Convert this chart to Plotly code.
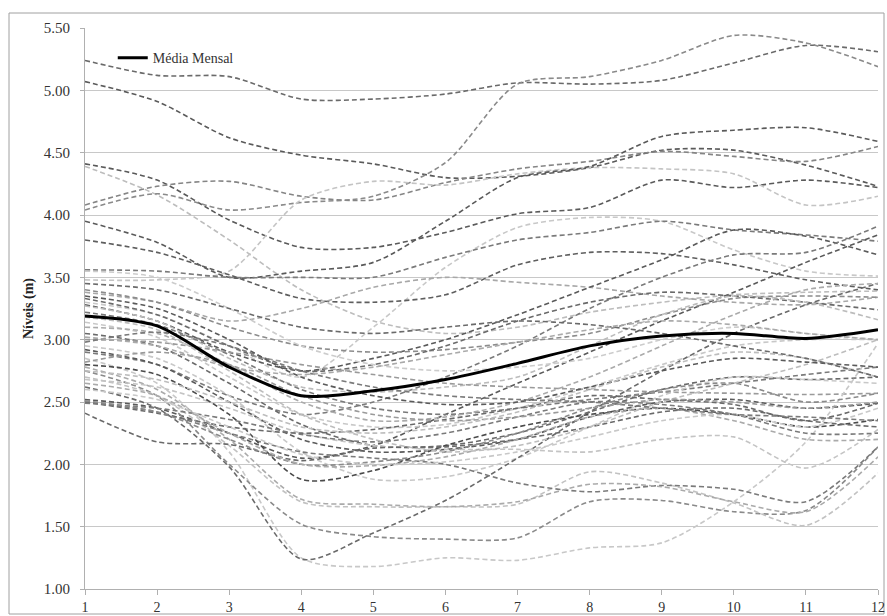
import plotly.graph_objects as go

months = [1, 2, 3, 4, 5, 6, 7, 8, 9, 10, 11, 12]
y_ticks = [1.00, 1.50, 2.00, 2.50, 3.00, 3.50, 4.00, 4.50, 5.00, 5.50]

media_mensal = [3.19, 3.11, 2.78, 2.55, 2.59, 2.68, 2.81, 2.95, 3.03, 3.05, 3.01, 3.08]

s01 = [5.24, 5.12, 5.11, 4.93, 4.93, 4.97, 5.06, 5.05, 5.08, 5.22, 5.36, 5.31]
s02 = [5.07, 4.91, 4.62, 4.48, 4.41, 4.30, 4.31, 4.38, 4.52, 4.52, 4.40, 4.23]
s03 = [4.41, 4.28, 3.96, 3.74, 3.74, 3.86, 4.01, 4.06, 4.28, 4.22, 4.28, 4.22]
s04 = [4.39, 4.16, 3.80, 3.40, 3.15, 3.05, 3.10, 3.22, 3.30, 3.36, 3.38, 3.39]
s05 = [4.08, 4.23, 4.27, 4.15, 4.12, 4.26, 4.37, 4.43, 4.51, 4.47, 4.43, 4.55]
s06 = [4.04, 4.17, 4.04, 4.10, 4.15, 4.42, 5.05, 5.11, 5.24, 5.44, 5.38, 5.19]
s07 = [3.48, 3.48, 3.55, 4.12, 4.27, 4.24, 4.33, 4.38, 4.37, 4.33, 4.08, 4.15]
s08 = [3.95, 3.78, 3.50, 3.55, 3.62, 3.95, 4.30, 4.39, 4.63, 4.68, 4.70, 4.59]
s09 = [3.30, 3.20, 2.95, 2.70, 3.10, 3.58, 3.90, 3.98, 3.95, 3.72, 3.55, 3.51]
s10 = [3.80, 3.70, 3.52, 3.33, 3.30, 3.36, 3.60, 3.70, 3.69, 3.60, 3.48, 3.40]
s11 = [3.56, 3.55, 3.50, 3.50, 3.50, 3.66, 3.80, 3.86, 3.95, 3.88, 3.84, 3.79]
s12 = [3.38, 3.30, 3.15, 3.25, 3.42, 3.50, 3.46, 3.42, 3.35, 3.30, 3.28, 3.34]
s13 = [3.28, 3.15, 2.90, 2.75, 2.85, 3.00, 3.20, 3.42, 3.64, 3.88, 3.83, 3.68]
s14 = [2.52, 2.45, 2.25, 2.05, 2.15, 2.40, 2.65, 2.90, 3.15, 3.38, 3.62, 3.84]
s15 = [2.90, 2.80, 2.55, 2.40, 2.50, 2.70, 2.95, 3.25, 3.50, 3.68, 3.70, 3.91]
s17 = [3.40, 3.30, 3.10, 2.95, 2.90, 2.92, 2.98, 3.05, 3.20, 3.33, 3.35, 3.34]
s18 = [3.33, 3.20, 2.95, 2.75, 2.80, 2.95, 3.15, 3.30, 3.38, 3.35, 3.30, 3.24]
s19 = [3.27, 3.15, 2.85, 2.62, 2.58, 2.62, 2.70, 2.95, 3.20, 3.35, 3.30, 3.16]
s20 = [3.22, 3.12, 2.88, 2.60, 2.45, 2.40, 2.45, 2.52, 2.58, 2.65, 2.72, 2.78]
s21 = [3.14, 3.02, 2.70, 2.40, 2.30, 2.32, 2.45, 2.62, 2.80, 2.95, 3.00, 3.00]
s22 = [3.05, 2.95, 2.65, 2.32, 2.15, 2.15, 2.25, 2.42, 2.60, 2.70, 2.68, 2.70]
s23 = [3.00, 2.98, 2.90, 2.80, 2.72, 2.65, 2.62, 2.60, 2.58, 2.57, 2.56, 2.57]
s24 = [2.95, 2.85, 2.55, 2.10, 1.88, 1.90, 2.05, 2.30, 2.55, 2.70, 2.68, 2.65]
s25 = [2.92, 2.80, 2.50, 2.20, 2.10, 2.12, 2.20, 2.38, 2.50, 2.52, 2.45, 2.49]
b01 = [2.85, 2.65, 2.10, 1.25, 1.18, 1.25, 1.23, 1.33, 1.37, 1.70, 2.18, 2.97]
b02 = [2.62, 2.45, 1.98, 1.24, 1.45, 1.71, 2.05, 2.42, 2.75, 3.05, 3.28, 3.45]
b03 = [2.75, 2.55, 2.00, 1.52, 1.42, 1.40, 1.41, 1.70, 1.71, 1.62, 1.63, 2.14]
b04 = [2.70, 2.55, 2.15, 1.70, 1.66, 1.66, 1.68, 1.94, 1.85, 1.69, 1.51, 1.93]
b05 = [2.50, 2.42, 2.25, 2.10, 2.05, 2.00, 1.85, 1.78, 1.83, 1.80, 1.70, 2.14]
b06 = [2.78, 2.60, 2.20, 1.72, 1.68, 1.66, 1.70, 1.84, 1.82, 1.70, 1.62, 2.06]
b07 = [2.68, 2.62, 2.45, 2.25, 2.15, 2.12, 2.12, 2.10, 2.20, 2.22, 1.97, 2.28]
b08 = [2.80, 2.72, 2.40, 1.88, 1.95, 2.15, 2.30, 2.40, 2.45, 2.40, 2.30, 2.36]
b09 = [2.41, 2.18, 2.16, 2.03, 2.13, 2.14, 2.20, 2.30, 2.42, 2.45, 2.35, 2.30]
b10 = [2.50, 2.41, 2.30, 2.25, 2.28, 2.36, 2.45, 2.55, 2.52, 2.48, 2.35, 2.49]
b11 = [2.49, 2.45, 2.36, 2.24, 2.18, 2.25, 2.38, 2.50, 2.48, 2.40, 2.25, 2.25]
b12 = [2.51, 2.42, 2.20, 2.00, 2.02, 2.10, 2.25, 2.45, 2.60, 2.65, 2.50, 2.57]
b13 = [2.65, 2.55, 2.25, 2.00, 1.99, 2.06, 2.20, 2.38, 2.45, 2.35, 2.20, 2.20]
b14 = [2.60, 2.52, 2.30, 2.08, 2.00, 2.02, 2.10, 2.22, 2.35, 2.40, 2.30, 2.45]
m01 = [3.10, 3.05, 2.80, 2.50, 2.35, 2.38, 2.50, 2.70, 2.95, 3.20, 3.40, 3.45]
m02 = [3.18, 3.08, 2.75, 2.40, 2.20, 2.10, 2.15, 2.30, 2.50, 2.65, 2.80, 3.00]
m03 = [2.98, 3.06, 2.95, 2.75, 2.62, 2.55, 2.52, 2.50, 2.45, 2.40, 2.38, 2.35]
m04 = [2.82, 2.90, 2.80, 2.55, 2.40, 2.35, 2.38, 2.45, 2.52, 2.50, 2.45, 2.50]
m05 = [3.35, 3.25, 3.00, 2.70, 2.55, 2.48, 2.50, 2.62, 2.75, 2.85, 2.82, 2.78]
m06 = [2.75, 2.68, 2.50, 2.30, 2.25, 2.30, 2.42, 2.60, 2.78, 2.90, 2.85, 2.70]
m07 = [3.55, 3.50, 3.25, 2.95, 2.80, 2.75, 2.78, 2.85, 3.00, 3.10, 3.05, 3.00]
m08 = [3.45, 3.40, 3.25, 3.10, 3.05, 3.10, 3.15, 3.12, 3.05, 2.95, 2.85, 2.70]
m09 = [3.02, 2.95, 2.78, 2.72, 2.78, 2.88, 2.98, 3.08, 3.15, 3.12, 3.05, 3.00]

series = [s01, s02, s03, s04, s05, s06, s07, s08, s09, s10, s11, s12, s13, s14, s15,
          s17, s18, s19, s20, s21, s22, s23, s24, s25,
          b01, b02, b03, b04, b05, b06, b07, b08, b09, b10, b11, b12, b13, b14,
          m01, m02, m03, m04, m05, m06, m07, m08, m09]
colors = ["#6a6a6a", "#5a5a5a", "#5a5a5a", "#bdbdbd", "#858585", "#8a8a8a", "#c4c4c4", "#5a5a5a",
          "#c8c8c8", "#5e5e5e", "#7a7a7a", "#a8a8a8", "#5a5a5a", "#5a5a5a", "#7a7a7a",
          "#8c8c8c", "#6a6a6a", "#bcbcbc", "#7a7a7a", "#c8c8c8", "#6a6a6a", "#9a9a9a", "#c8c8c8", "#5a5a5a",
          "#c8c8c8", "#6a6a6a", "#8a8a8a", "#c2c2c2", "#7a7a7a", "#aaaaaa", "#c4c4c4", "#4a4a4a",
          "#6a6a6a", "#6a6a6a", "#7a7a7a", "#8a8a8a", "#aaaaaa", "#c8c8c8",
          "#aaaaaa", "#bdbdbd", "#7a7a7a", "#9a9a9a", "#5a5a5a", "#bdbdbd", "#cccccc", "#6a6a6a", "#aaaaaa"]

fig = go.Figure()
for vals, col in zip(series, colors):
    fig.add_trace(go.Scatter(x=months, y=vals, mode="lines", showlegend=False, hoverinfo="skip",
                             line=dict(color=col, width=1.6, dash="5px,3px", shape="spline", smoothing=0.8)))
fig.add_trace(go.Scatter(x=months, y=media_mensal, mode="lines", name="Média Mensal",
                         line=dict(color="#000000", width=3, shape="spline", smoothing=0.8)))

font_family = "Liberation Serif"
txt = "#333333"
fig.update_layout(
    width=887, height=616,
    margin=dict(l=85, r=9, t=28, b=27, autoexpand=False),
    paper_bgcolor="white", plot_bgcolor="white",
    font=dict(family=font_family, size=14, color=txt),
    showlegend=True,
    legend=dict(x=0.035, y=0.975, xanchor="left", yanchor="top", bgcolor="rgba(0,0,0,0)",
                font=dict(family=font_family, size=14, color=txt),
                itemwidth=30, tracegroupgap=0),
    xaxis=dict(range=[1, 12], tickmode="array", tickvals=months, ticktext=[str(m) for m in months],
               showgrid=False, zeroline=False, showline=True, linecolor="#b0b0b0", linewidth=1,
               ticks="outside", ticklen=5, tickcolor="#b0b0b0", ticklabelstandoff=0,
               automargin=False,
               tickfont=dict(family=font_family, size=14, color=txt)),
    yaxis=dict(range=[1.0, 5.5], tickmode="array", tickvals=y_ticks,
               ticktext=[f"{v:.2f}" for v in y_ticks],
               showgrid=True, gridcolor="#c8c8c8", gridwidth=1, zeroline=False,
               showline=True, linecolor="#b0b0b0", linewidth=1,
               ticks="outside", ticklen=4, tickcolor="#b0b0b0", ticklabelstandoff=7,
               automargin=False,
               tickfont=dict(family=font_family, size=15, color=txt),
               title=dict(text="<b>Níveis (m)</b>", font=dict(family=font_family, size=14, color="#222222"),
                          standoff=6)),
    shapes=[dict(type="rect", xref="paper", yref="paper",
                 x0=(9 - 85) / 793, x1=(884 - 85) / 793, y0=(589 - 614) / 561, y1=(589 - 13) / 561,
                 line=dict(color="#a0a0a0", width=1), fillcolor="rgba(0,0,0,0)", layer="below")],
)

fig.write_html("out.html")
